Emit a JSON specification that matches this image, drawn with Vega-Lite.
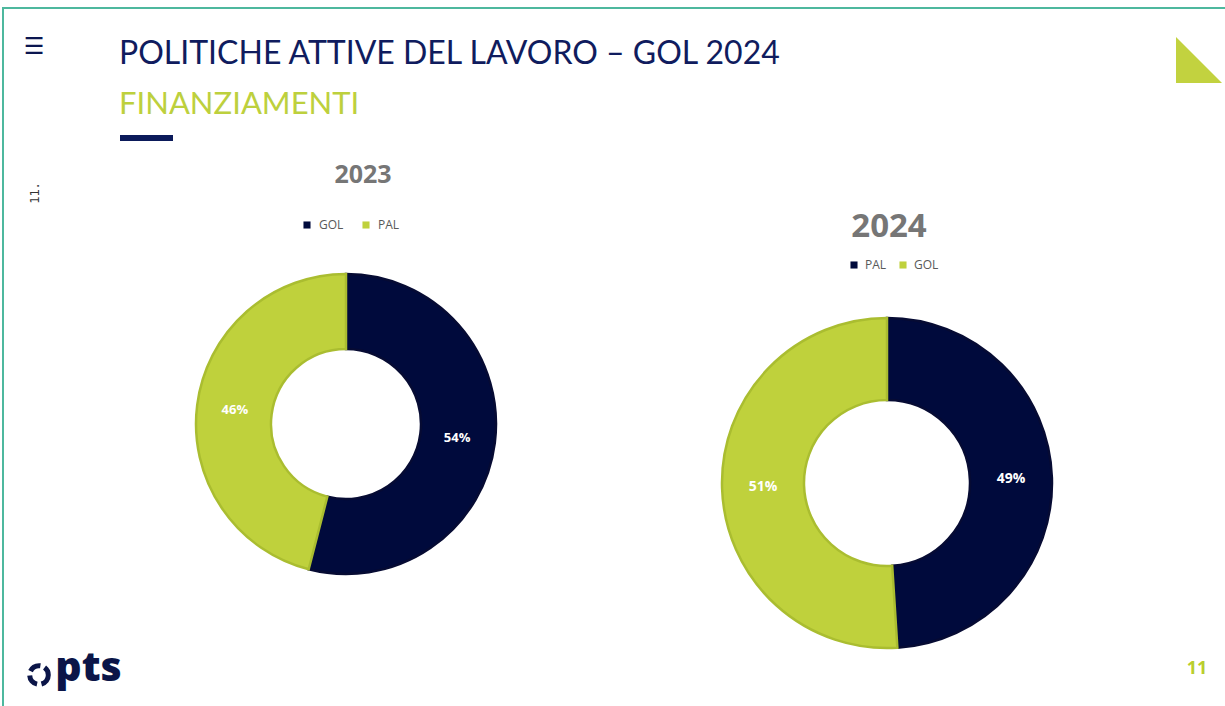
{
  "$schema": "https://vega.github.io/schema/vega-lite/v6.json",
  "width": 1225,
  "height": 706,
  "autosize": {"type": "fit", "contains": "padding"},
  "padding": {"left": 3, "top": 8, "right": -4, "bottom": -4},
  "background": "white",
  "title": {
    "text": "POLITICHE ATTIVE DEL LAVORO – GOL 2024",
    "subtitle": "FINANZIAMENTI",
    "anchor": "start",
    "frame": "group",
    "orient": "top",
    "offset": -113,
    "dx": 116,
    "font": "Lato",
    "fontSize": 32,
    "fontWeight": "normal",
    "color": "#101C5E",
    "subtitleFont": "Lato",
    "subtitleFontSize": 31,
    "subtitleColor": "#BDD03D",
    "subtitlePadding": 19
  },
  "datasets": {
    "shares": [
      {"year": "2023", "label": "GOL", "value": 0.54, "rank": 1},
      {"year": "2023", "label": "PAL", "value": 0.46, "rank": 2},
      {"year": "2024", "label": "PAL", "value": 0.49, "rank": 1},
      {"year": "2024", "label": "GOL", "value": 0.51, "rank": 2}
    ],
    "decor": [
      {"item": "menu", "text": "☰"},
      {"item": "bar", "text": ""},
      {"item": "side", "text": "11."},
      {"item": "corner", "text": ""},
      {"item": "logo", "text": "pts"},
      {"item": "ring", "text": ""},
      {"item": "page", "text": "11"}
    ]
  },
  "layer": [
    {
      "data": {"name": "shares"},
      "transform": [{"filter": "datum.year == '2023'"}],
      "mark": {"type": "arc", "outerRadius": 150, "innerRadius": 75, "strokeWidth": 2.5},
      "encoding": {
        "x": {"field": "year", "type": "nominal", "scale": {"type": "point", "domain": ["2023"], "range": [343, 343], "padding": 0}, "axis": null},
        "y": {"field": "year", "type": "nominal", "scale": {"type": "point", "domain": ["2023"], "range": [416, 416], "padding": 0}, "axis": null},
        "theta": {"field": "value", "type": "quantitative", "stack": true},
        "order": {"field": "rank", "type": "quantitative"},
        "color": {"field": "label", "type": "nominal", "scale": {"domain": ["GOL", "PAL"], "range": ["#000A3C", "#BFD13C"]},
          "legend": {"orient": "none", "legendX": 298, "legendY": 211, "direction": "horizontal", "title": null, "columnPadding": 16, "labelOffset": 6}},
        "stroke": {"field": "label", "type": "nominal", "scale": {"domain": ["GOL", "PAL"], "range": ["#060B33", "#AABD30"]}, "legend": null}
      }
    },
    {
      "data": {"name": "shares"},
      "transform": [{"filter": "datum.year == '2023'"}],
      "mark": {"type": "text", "radius": 112, "font": "Open Sans", "fontWeight": "bold", "fontSize": 13, "color": "white", "align": "center", "baseline": "middle"},
      "encoding": {
        "x": {"field": "year", "type": "nominal", "scale": {"type": "point", "domain": ["2023"], "range": [343, 343], "padding": 0}, "axis": null},
        "y": {"field": "year", "type": "nominal", "scale": {"type": "point", "domain": ["2023"], "range": [416, 416], "padding": 0}, "axis": null},
        "theta": {"field": "value", "type": "quantitative", "stack": true},
        "order": {"field": "rank", "type": "quantitative"},
        "text": {"field": "value", "type": "quantitative", "format": ".0%"}
      }
    },
    {
      "data": {"name": "shares"},
      "transform": [{"filter": "datum.year == '2023' && datum.rank == 1"}],
      "mark": {"type": "text", "font": "Open Sans", "fontWeight": "bold", "fontSize": 25, "color": "#767676", "align": "center", "baseline": "middle"},
      "encoding": {
        "x": {"field": "year", "type": "nominal", "scale": {"type": "point", "domain": ["2023"], "range": [360, 360], "padding": 0}, "axis": null},
        "y": {"field": "year", "type": "nominal", "scale": {"type": "point", "domain": ["2023"], "range": [167, 167], "padding": 0}, "axis": null},
        "text": {"field": "year"}
      }
    },
    {
      "data": {"name": "shares"},
      "transform": [{"filter": "datum.year == '2024'"}],
      "mark": {"type": "arc", "outerRadius": 165, "innerRadius": 83, "strokeWidth": 2.5},
      "encoding": {
        "x": {"field": "year", "type": "nominal", "scale": {"type": "point", "domain": ["2024"], "range": [884, 884], "padding": 0}, "axis": null},
        "y": {"field": "year", "type": "nominal", "scale": {"type": "point", "domain": ["2024"], "range": [475, 475], "padding": 0}, "axis": null},
        "theta": {"field": "value", "type": "quantitative", "stack": true},
        "order": {"field": "rank", "type": "quantitative"},
        "color": {"field": "label", "type": "nominal", "scale": {"domain": ["PAL", "GOL"], "range": ["#000A3C", "#BFD13C"]},
          "legend": {"orient": "none", "legendX": 845, "legendY": 251, "direction": "horizontal", "title": null, "columnPadding": 10, "labelOffset": 5}},
        "stroke": {"field": "label", "type": "nominal", "scale": {"domain": ["PAL", "GOL"], "range": ["#060B33", "#AABD30"]}, "legend": null}
      }
    },
    {
      "data": {"name": "shares"},
      "transform": [{"filter": "datum.year == '2024'"}],
      "mark": {"type": "text", "radius": 124, "font": "Open Sans", "fontWeight": "bold", "fontSize": 14, "color": "white", "align": "center", "baseline": "middle"},
      "encoding": {
        "x": {"field": "year", "type": "nominal", "scale": {"type": "point", "domain": ["2024"], "range": [884, 884], "padding": 0}, "axis": null},
        "y": {"field": "year", "type": "nominal", "scale": {"type": "point", "domain": ["2024"], "range": [475, 475], "padding": 0}, "axis": null},
        "theta": {"field": "value", "type": "quantitative", "stack": true},
        "order": {"field": "rank", "type": "quantitative"},
        "text": {"field": "value", "type": "quantitative", "format": ".0%"}
      }
    },
    {
      "data": {"name": "shares"},
      "transform": [{"filter": "datum.year == '2024' && datum.rank == 1"}],
      "mark": {"type": "text", "font": "Open Sans", "fontWeight": "bold", "fontSize": 33, "color": "#767676", "align": "center", "baseline": "middle"},
      "encoding": {
        "x": {"field": "year", "type": "nominal", "scale": {"type": "point", "domain": ["2024"], "range": [886, 886], "padding": 0}, "axis": null},
        "y": {"field": "year", "type": "nominal", "scale": {"type": "point", "domain": ["2024"], "range": [219, 219], "padding": 0}, "axis": null},
        "text": {"field": "year"}
      }
    },
    {
      "data": {"name": "decor"},
      "transform": [{"filter": "datum.item == 'menu'"}],
      "mark": {"type": "text", "font": "DejaVu Sans", "fontWeight": "normal", "fontSize": 23, "color": "#0B1650", "align": "center", "baseline": "middle"},
      "encoding": {
        "x": {"field": "item", "type": "nominal", "scale": {"type": "point", "domain": ["menu"], "range": [31, 31], "padding": 0}, "axis": null},
        "y": {"field": "item", "type": "nominal", "scale": {"type": "point", "domain": ["menu"], "range": [39, 39], "padding": 0}, "axis": null},
        "text": {"field": "text"}
      }
    },
    {
      "data": {"name": "decor"},
      "transform": [{"filter": "datum.item == 'bar'"}],
      "mark": {"type": "tick", "orient": "horizontal", "size": 53, "thickness": 6, "color": "#0B1A5A", "opacity": 1},
      "encoding": {
        "x": {"field": "item", "type": "nominal", "scale": {"type": "point", "domain": ["bar"], "range": [143.5, 143.5], "padding": 0}, "axis": null},
        "y": {"field": "item", "type": "nominal", "scale": {"type": "point", "domain": ["bar"], "range": [130, 130], "padding": 0}, "axis": null}
      }
    },
    {
      "data": {"name": "decor"},
      "transform": [{"filter": "datum.item == 'side'"}],
      "mark": {"type": "text", "font": "DejaVu Sans Mono", "fontSize": 12, "angle": 270, "color": "#333333", "align": "center", "baseline": "middle"},
      "encoding": {
        "x": {"field": "item", "type": "nominal", "scale": {"type": "point", "domain": ["side"], "range": [32, 32], "padding": 0}, "axis": null},
        "y": {"field": "item", "type": "nominal", "scale": {"type": "point", "domain": ["side"], "range": [185, 185], "padding": 0}, "axis": null},
        "text": {"field": "text"}
      }
    },
    {
      "data": {"name": "decor"},
      "transform": [{"filter": "datum.item == 'corner'"}],
      "mark": {"type": "point", "shape": "M-1,-1L-1,1L1,1Z", "filled": true, "size": 2116, "color": "#C2D23F", "opacity": 1, "strokeWidth": 0},
      "encoding": {
        "x": {"field": "item", "type": "nominal", "scale": {"type": "point", "domain": ["corner"], "range": [1196, 1196], "padding": 0}, "axis": null},
        "y": {"field": "item", "type": "nominal", "scale": {"type": "point", "domain": ["corner"], "range": [52, 52], "padding": 0}, "axis": null}
      }
    },
    {
      "data": {"name": "decor"},
      "transform": [{"filter": "datum.item == 'ring'"}],
      "mark": {"type": "point", "shape": "circle", "filled": false, "size": 346, "color": "#0B1548", "strokeWidth": 5, "strokeDash": [12, 4.5], "opacity": 1},
      "encoding": {
        "x": {"field": "item", "type": "nominal", "scale": {"type": "point", "domain": ["ring"], "range": [36, 36], "padding": 0}, "axis": null},
        "y": {"field": "item", "type": "nominal", "scale": {"type": "point", "domain": ["ring"], "range": [667, 667], "padding": 0}, "axis": null}
      }
    },
    {
      "data": {"name": "decor"},
      "transform": [{"filter": "datum.item == 'logo'"}],
      "mark": {"type": "text", "font": "Open Sans", "fontWeight": 800, "fontSize": 41, "color": "#0B1548", "align": "center", "baseline": "alphabetic"},
      "encoding": {
        "x": {"field": "item", "type": "nominal", "scale": {"type": "point", "domain": ["logo"], "range": [85.5, 85.5], "padding": 0}, "axis": null},
        "y": {"field": "item", "type": "nominal", "scale": {"type": "point", "domain": ["logo"], "range": [673, 673], "padding": 0}, "axis": null},
        "text": {"field": "text"}
      }
    },
    {
      "data": {"name": "decor"},
      "transform": [{"filter": "datum.item == 'page'"}],
      "mark": {"type": "text", "font": "Open Sans", "fontWeight": "bold", "fontSize": 18, "color": "#B9CE2E", "align": "center", "baseline": "middle"},
      "encoding": {
        "x": {"field": "item", "type": "nominal", "scale": {"type": "point", "domain": ["page"], "range": [1194, 1194], "padding": 0}, "axis": null},
        "y": {"field": "item", "type": "nominal", "scale": {"type": "point", "domain": ["page"], "range": [661, 661], "padding": 0}, "axis": null},
        "text": {"field": "text"}
      }
    }
  ],
  "resolve": {
    "scale": {"x": "independent", "y": "independent", "color": "independent", "stroke": "independent", "theta": "independent"}
  },
  "config": {
    "view": {"stroke": "#4DB89E", "strokeWidth": 2},
    "legend": {
      "symbolType": "square",
      "symbolSize": 50,
      "symbolStrokeWidth": 0,
      "labelFont": "Open Sans",
      "labelFontSize": 12,
      "labelColor": "#595959",
      "padding": 0,
      "offset": 0
    }
  }
}
